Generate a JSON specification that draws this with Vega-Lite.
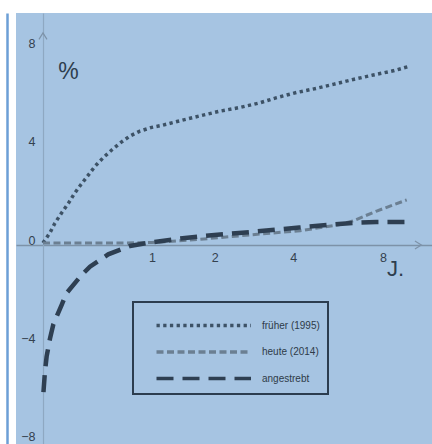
{
  "$schema": "https://vega.github.io/schema/vega-lite/v6.json",
  "width": 416,
  "height": 431,
  "autosize": {"type": "none"},
  "padding": {"left": 16, "top": 13, "right": 0, "bottom": 0},
  "background": "white",
  "config": {
    "font": "Liberation Sans",
    "view": {"fill": "#a6c4e2", "stroke": null},
    "axis": {"grid": false},
    "legend": {
      "orient": "none",
      "legendX": 117,
      "legendY": 289,
      "symbolType": "M0,0H7",
      "symbolSize": 729,
      "symbolStrokeWidth": 3.5,
      "labelOffset": 90,
      "labelFontSize": 10,
      "labelColor": "#2e3b48",
      "padding": 8,
      "rowPadding": 3.5,
      "strokeColor": "#2c3d4f",
      "strokeWidth": 2,
      "fillColor": "#a6c4e2",
      "labelLimit": 200
    }
  },
  "datasets": {
    "curves": [
      {"s": "früher (1995)", "x": 0, "y": 0},
      {"s": "früher (1995)", "x": 0.045, "y": 0.42},
      {"s": "früher (1995)", "x": 0.078, "y": 0.81},
      {"s": "früher (1995)", "x": 0.125, "y": 1.23},
      {"s": "früher (1995)", "x": 0.173, "y": 1.61},
      {"s": "früher (1995)", "x": 0.216, "y": 1.99},
      {"s": "früher (1995)", "x": 0.271, "y": 2.38},
      {"s": "früher (1995)", "x": 0.331, "y": 2.76},
      {"s": "früher (1995)", "x": 0.391, "y": 3.13},
      {"s": "früher (1995)", "x": 0.464, "y": 3.47},
      {"s": "früher (1995)", "x": 0.545, "y": 3.78},
      {"s": "früher (1995)", "x": 0.639, "y": 4.09},
      {"s": "früher (1995)", "x": 0.736, "y": 4.35},
      {"s": "früher (1995)", "x": 0.851, "y": 4.55},
      {"s": "früher (1995)", "x": 0.996, "y": 4.70},
      {"s": "früher (1995)", "x": 1.129, "y": 4.78},
      {"s": "früher (1995)", "x": 1.395, "y": 4.97},
      {"s": "früher (1995)", "x": 1.726, "y": 5.17},
      {"s": "früher (1995)", "x": 2.103, "y": 5.36},
      {"s": "früher (1995)", "x": 2.534, "y": 5.51},
      {"s": "früher (1995)", "x": 3.025, "y": 5.70},
      {"s": "früher (1995)", "x": 3.488, "y": 5.91},
      {"s": "früher (1995)", "x": 4.115, "y": 6.12},
      {"s": "früher (1995)", "x": 4.829, "y": 6.29},
      {"s": "früher (1995)", "x": 5.497, "y": 6.45},
      {"s": "früher (1995)", "x": 6.407, "y": 6.65},
      {"s": "früher (1995)", "x": 7.444, "y": 6.83},
      {"s": "früher (1995)", "x": 8.626, "y": 7.00},
      {"s": "früher (1995)", "x": 9.624, "y": 7.17},
      {"s": "heute (2014)", "x": 0, "y": 0},
      {"s": "heute (2014)", "x": 0.3, "y": 0},
      {"s": "heute (2014)", "x": 0.6, "y": 0},
      {"s": "heute (2014)", "x": 1.0, "y": 0.02},
      {"s": "heute (2014)", "x": 1.73, "y": 0.15},
      {"s": "heute (2014)", "x": 2.77, "y": 0.33},
      {"s": "heute (2014)", "x": 4.23, "y": 0.5},
      {"s": "heute (2014)", "x": 5.79, "y": 0.75},
      {"s": "heute (2014)", "x": 6.39, "y": 0.9},
      {"s": "heute (2014)", "x": 7.63, "y": 1.3},
      {"s": "heute (2014)", "x": 8.42, "y": 1.5},
      {"s": "heute (2014)", "x": 9.51, "y": 1.75},
      {"s": "angestrebt", "x": 0.003, "y": -6.06},
      {"s": "angestrebt", "x": 0.0125, "y": -5.23},
      {"s": "angestrebt", "x": 0.023, "y": -4.62},
      {"s": "angestrebt", "x": 0.045, "y": -3.88},
      {"s": "angestrebt", "x": 0.067, "y": -3.31},
      {"s": "angestrebt", "x": 0.124, "y": -2.52},
      {"s": "angestrebt", "x": 0.158, "y": -2.05},
      {"s": "angestrebt", "x": 0.276, "y": -1.30},
      {"s": "angestrebt", "x": 0.345, "y": -0.96},
      {"s": "angestrebt", "x": 0.511, "y": -0.46},
      {"s": "angestrebt", "x": 0.736, "y": -0.12},
      {"s": "angestrebt", "x": 0.974, "y": 0.02},
      {"s": "angestrebt", "x": 1.3, "y": 0.15},
      {"s": "angestrebt", "x": 1.73, "y": 0.27},
      {"s": "angestrebt", "x": 2.2, "y": 0.36},
      {"s": "angestrebt", "x": 2.8, "y": 0.45},
      {"s": "angestrebt", "x": 3.5, "y": 0.55},
      {"s": "angestrebt", "x": 4.2, "y": 0.63},
      {"s": "angestrebt", "x": 5.5, "y": 0.76},
      {"s": "angestrebt", "x": 6.4, "y": 0.82},
      {"s": "angestrebt", "x": 7.6, "y": 0.85},
      {"s": "angestrebt", "x": 9.7, "y": 0.86}
    ],
    "arrows": [
      {"dir": "up", "x": 0, "y": 8.41},
      {"dir": "right", "x": 10.33, "y": -0.08}
    ]
  },
  "resolve": {"axis": {"y": "independent"}},
  "layer": [
    {
      "data": {"name": "curves"},
      "transform": [{"filter": "datum.s === 'früher (1995)'"}],
      "mark": {"type": "line", "strokeWidth": 3.5, "strokeCap": "butt"},
      "encoding": {
        "x": {"field": "x", "type": "quantitative", "scale": {"type": "symlog", "constant": 0.95, "domain": [-0.185, 11.41], "nice": false, "zero": false},
          "axis": {"orient": "bottom", "offset": -199, "values": [1, 2, 4, 8], "ticks": false, "tickSize": 0, "labelPadding": 6, "domainColor": "#7d92a8", "domainWidth": 1.5, "labelColor": "#34414f", "labelFontSize": 12.5, "labelFlush": false, "labelOverlap": false, "title": "J.", "titleX": 379, "titleY": 23, "titleAlign": "center", "titleBaseline": "middle", "titleFontSize": 22, "titleFontWeight": "normal", "titleColor": "#2e3e4e"}},
        "y": {"field": "y", "type": "quantitative", "scale": {"domain": [-8.17, 9.35], "nice": false, "zero": false},
          "axis": {"orient": "left", "offset": -27, "values": [-8, -4, 0, 4, 8], "ticks": false, "tickSize": 0, "labelPadding": 8, "labelOffset": -3, "domainColor": "#8ea8c2", "domainWidth": 1.2, "labelColor": "#34414f", "labelFontSize": 12.5, "labelFlush": false, "labelOverlap": false, "title": "%", "titleAngle": 0, "titleX": 25, "titleY": 58, "titleAlign": "center", "titleBaseline": "middle", "titleFontSize": 23, "titleFontWeight": "normal", "titleColor": "#2e3e4e"}},
        "color": {"field": "s", "type": "nominal", "scale": {"domain": ["früher (1995)", "heute (2014)", "angestrebt"], "range": ["#3d5266", "#6b7f92", "#2e3f52"]}, "legend": {"title": null}},
        "strokeDash": {"field": "s", "type": "nominal", "scale": {"domain": ["früher (1995)", "heute (2014)", "angestrebt"], "range": [[3.3, 3.4], [7, 3.5], [17, 9]]}, "legend": {"title": null}}
      }
    },
    {
      "data": {"name": "curves"},
      "transform": [{"filter": "datum.s === 'heute (2014)'"}],
      "mark": {"type": "line", "strokeWidth": 3, "strokeCap": "butt"},
      "encoding": {
        "x": {"field": "x", "type": "quantitative"},
        "y": {"field": "y", "type": "quantitative", "axis": null},
        "color": {"field": "s", "type": "nominal", "legend": {"title": null}},
        "strokeDash": {"field": "s", "type": "nominal", "legend": {"title": null}}
      }
    },
    {
      "data": {"name": "curves"},
      "transform": [{"filter": "datum.s === 'angestrebt'"}],
      "mark": {"type": "line", "strokeWidth": 4.5, "strokeCap": "butt"},
      "encoding": {
        "x": {"field": "x", "type": "quantitative"},
        "y": {"field": "y", "type": "quantitative", "axis": null},
        "color": {"field": "s", "type": "nominal", "legend": {"title": null}},
        "strokeDash": {"field": "s", "type": "nominal", "legend": {"title": null}}
      }
    },
    {
      "data": {"name": "arrows"},
      "mark": {"type": "point", "filled": false, "color": "#7d92a8", "strokeWidth": 1.2, "size": 64, "opacity": 1},
      "encoding": {
        "x": {"field": "x", "type": "quantitative"},
        "y": {"field": "y", "type": "quantitative",
          "axis": {"orient": "left", "offset": 9, "labels": false, "ticks": false, "title": null, "domainColor": "#6d9fd6", "domainWidth": 2.5}},
        "shape": {"field": "dir", "type": "nominal", "scale": {"domain": ["up", "right"], "range": ["M-1,0.8L0,-0.8L1,0.8", "M-0.8,-1L0.8,0L-0.8,1"]}, "legend": null}
      }
    }
  ]
}
